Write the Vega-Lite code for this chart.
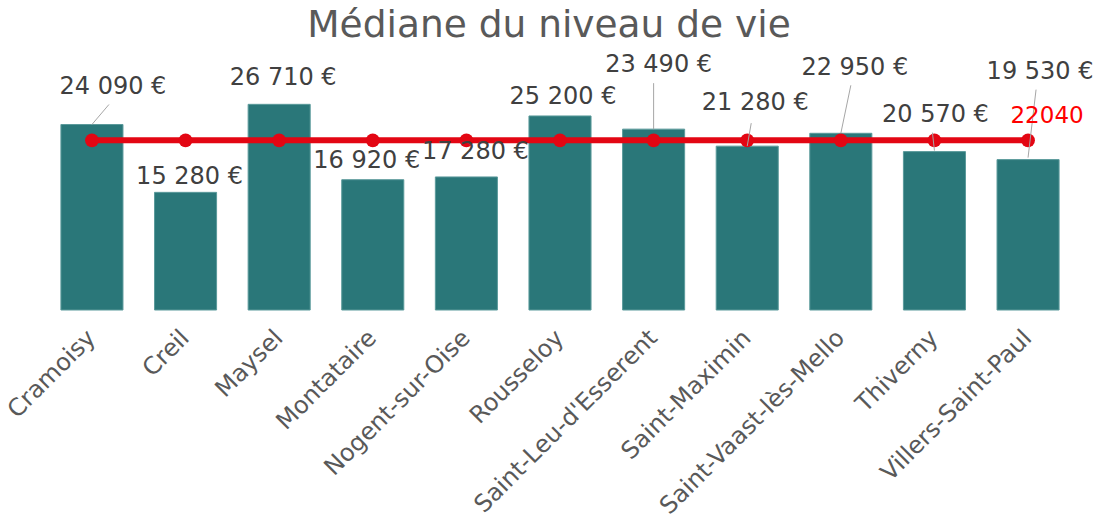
{
  "$schema": "https://vega.github.io/schema/vega-lite/v6.json",
  "width": 1030,
  "height": 231,
  "autosize": {"type": "none"},
  "padding": {"left": 45, "top": 79, "right": 26, "bottom": 214},
  "title": {
    "text": "Médiane du niveau de vie",
    "font": "DejaVu Sans",
    "fontSize": 37.5,
    "fontWeight": "normal",
    "color": "#595959",
    "anchor": "middle",
    "frame": "group",
    "baseline": "alphabetic",
    "offset": 17,
    "dx": -11,
    "dy": 38
  },
  "config": {
    "view": {"stroke": null},
    "font": "DejaVu Sans",
    "locale": {
      "number": {
        "decimal": ",",
        "thousands": "\u00a0",
        "grouping": [3],
        "currency": ["", "\u00a0€"]
      }
    }
  },
  "data": {
    "values": [
      {"commune": "Cramoisy", "valeur": 24090, "moyenne": 22040},
      {"commune": "Creil", "valeur": 15280, "moyenne": 22040},
      {"commune": "Maysel", "valeur": 26710, "moyenne": 22040},
      {"commune": "Montataire", "valeur": 16920, "moyenne": 22040},
      {"commune": "Nogent-sur-Oise", "valeur": 17280, "moyenne": 22040},
      {"commune": "Rousseloy", "valeur": 25200, "moyenne": 22040},
      {"commune": "Saint-Leu-d'Esserent", "valeur": 23490, "moyenne": 22040},
      {"commune": "Saint-Maximin", "valeur": 21280, "moyenne": 22040},
      {"commune": "Saint-Vaast-lès-Mello", "valeur": 22950, "moyenne": 22040},
      {"commune": "Thiverny", "valeur": 20570, "moyenne": 22040},
      {"commune": "Villers-Saint-Paul", "valeur": 19530, "moyenne": 22040}
    ]
  },
  "encoding": {
    "x": {
      "field": "commune",
      "type": "nominal",
      "sort": null,
      "scale": {"paddingInner": 0.337, "paddingOuter": 0.17},
      "axis": {
        "title": null,
        "labelAngle": -45,
        "labelAlign": "right",
        "labelBaseline": "middle",
        "labelPadding": 24,
        "labelFontSize": 24,
        "labelLimit": 400,
        "labelColor": "#595959",
        "labelFont": "DejaVu Sans",
        "ticks": false,
        "domain": false,
        "grid": false
      }
    }
  },
  "layer": [
    {
      "mark": {"type": "bar", "color": "#2A7779", "stroke": "#5b9a9b", "strokeWidth": 1},
      "encoding": {
        "y": {
          "field": "valeur",
          "type": "quantitative",
          "scale": {"domain": [0, 30000], "nice": false},
          "axis": {
            "title": null,
            "values": [0, 5000, 10000, 15000, 20000, 25000, 30000],
            "labels": false,
            "ticks": false,
            "domain": false,
            "grid": true,
            "gridColor": "#d9d9d9",
            "gridWidth": 1.5
          }
        }
      }
    },
    {
      "mark": {"type": "line", "color": "#E30613", "strokeWidth": 6},
      "encoding": {"y": {"field": "moyenne", "type": "quantitative", "axis": null}}
    },
    {
      "mark": {"type": "point", "filled": true, "color": "#E30613", "size": 190, "opacity": 1},
      "encoding": {"y": {"field": "moyenne", "type": "quantitative", "axis": null}}
    },
    {
      "transform": [{"filter": "datum.commune === 'Cramoisy'"}],
      "mark": {"type": "rule", "color": "#a6a6a6", "strokeWidth": 1, "x2Offset": 17, "y2Offset": -20},
      "encoding": {
        "y": {"field": "valeur", "type": "quantitative", "axis": null},
        "y2": {"field": "valeur"},
        "x2": {"field": "commune", "bandPosition": 0.5}
      }
    },
    {
      "transform": [{"filter": "datum.commune === \"Saint-Leu-d'Esserent\""}],
      "mark": {"type": "rule", "color": "#a6a6a6", "strokeWidth": 1, "x2Offset": 0, "y2Offset": -46},
      "encoding": {
        "y": {"field": "valeur", "type": "quantitative", "axis": null},
        "y2": {"field": "valeur"},
        "x2": {"field": "commune", "bandPosition": 0.5}
      }
    },
    {
      "transform": [{"filter": "datum.commune === 'Saint-Maximin'"}],
      "mark": {"type": "rule", "color": "#a6a6a6", "strokeWidth": 1, "x2Offset": 4, "y2Offset": -23},
      "encoding": {
        "y": {"field": "valeur", "type": "quantitative", "axis": null},
        "y2": {"field": "valeur"},
        "x2": {"field": "commune", "bandPosition": 0.5}
      }
    },
    {
      "transform": [{"filter": "datum.commune === 'Saint-Vaast-lès-Mello'"}],
      "mark": {"type": "rule", "color": "#a6a6a6", "strokeWidth": 1, "x2Offset": 10, "y2Offset": -48},
      "encoding": {
        "y": {"field": "valeur", "type": "quantitative", "axis": null},
        "y2": {"field": "valeur"},
        "x2": {"field": "commune", "bandPosition": 0.5}
      }
    },
    {
      "transform": [{"filter": "datum.commune === 'Thiverny'"}],
      "mark": {"type": "rule", "color": "#a6a6a6", "strokeWidth": 1, "yOffset": -1, "x2Offset": -2, "y2Offset": -19},
      "encoding": {
        "y": {"field": "valeur", "type": "quantitative", "axis": null},
        "y2": {"field": "valeur"},
        "x2": {"field": "commune", "bandPosition": 0.5}
      }
    },
    {
      "transform": [{"filter": "datum.commune === 'Villers-Saint-Paul'"}],
      "mark": {"type": "rule", "color": "#a6a6a6", "strokeWidth": 1, "yOffset": -2, "x2Offset": 8, "y2Offset": -70},
      "encoding": {
        "y": {"field": "valeur", "type": "quantitative", "axis": null},
        "y2": {"field": "valeur"},
        "x2": {"field": "commune", "bandPosition": 0.5}
      }
    },
    {
      "transform": [{"filter": "datum.commune === 'Cramoisy'"}],
      "mark": {"type": "text", "fontSize": 24, "color": "#404040", "align": "center", "baseline": "middle", "dx": 21, "dy": -38},
      "encoding": {
        "y": {"field": "valeur", "type": "quantitative", "axis": null},
        "text": {"field": "valeur", "type": "quantitative", "format": "$,.0f"}
      }
    },
    {
      "transform": [{"filter": "datum.commune === 'Creil'"}],
      "mark": {"type": "text", "fontSize": 24, "color": "#404040", "align": "center", "baseline": "middle", "dx": 4, "dy": -15},
      "encoding": {
        "y": {"field": "valeur", "type": "quantitative", "axis": null},
        "text": {"field": "valeur", "type": "quantitative", "format": "$,.0f"}
      }
    },
    {
      "transform": [{"filter": "datum.commune === 'Maysel'"}],
      "mark": {"type": "text", "fontSize": 24, "color": "#404040", "align": "center", "baseline": "middle", "dx": 4, "dy": -26},
      "encoding": {
        "y": {"field": "valeur", "type": "quantitative", "axis": null},
        "text": {"field": "valeur", "type": "quantitative", "format": "$,.0f"}
      }
    },
    {
      "transform": [{"filter": "datum.commune === 'Montataire'"}],
      "mark": {"type": "text", "fontSize": 24, "color": "#404040", "align": "center", "baseline": "middle", "dx": -6, "dy": -19},
      "encoding": {
        "y": {"field": "valeur", "type": "quantitative", "axis": null},
        "text": {"field": "valeur", "type": "quantitative", "format": "$,.0f"}
      }
    },
    {
      "transform": [{"filter": "datum.commune === 'Nogent-sur-Oise'"}],
      "mark": {"type": "text", "fontSize": 24, "color": "#404040", "align": "center", "baseline": "middle", "dx": 9, "dy": -25},
      "encoding": {
        "y": {"field": "valeur", "type": "quantitative", "axis": null},
        "text": {"field": "valeur", "type": "quantitative", "format": "$,.0f"}
      }
    },
    {
      "transform": [{"filter": "datum.commune === 'Rousseloy'"}],
      "mark": {"type": "text", "fontSize": 24, "color": "#404040", "align": "center", "baseline": "middle", "dx": 3, "dy": -19},
      "encoding": {
        "y": {"field": "valeur", "type": "quantitative", "axis": null},
        "text": {"field": "valeur", "type": "quantitative", "format": "$,.0f"}
      }
    },
    {
      "transform": [{"filter": "datum.commune === \"Saint-Leu-d'Esserent\""}],
      "mark": {"type": "text", "fontSize": 24, "color": "#404040", "align": "center", "baseline": "middle", "dx": 5, "dy": -64},
      "encoding": {
        "y": {"field": "valeur", "type": "quantitative", "axis": null},
        "text": {"field": "valeur", "type": "quantitative", "format": "$,.0f"}
      }
    },
    {
      "transform": [{"filter": "datum.commune === 'Saint-Maximin'"}],
      "mark": {"type": "text", "fontSize": 24, "color": "#404040", "align": "center", "baseline": "middle", "dx": 8, "dy": -43},
      "encoding": {
        "y": {"field": "valeur", "type": "quantitative", "axis": null},
        "text": {"field": "valeur", "type": "quantitative", "format": "$,.0f"}
      }
    },
    {
      "transform": [{"filter": "datum.commune === 'Saint-Vaast-lès-Mello'"}],
      "mark": {"type": "text", "fontSize": 24, "color": "#404040", "align": "center", "baseline": "middle", "dx": 14, "dy": -65},
      "encoding": {
        "y": {"field": "valeur", "type": "quantitative", "axis": null},
        "text": {"field": "valeur", "type": "quantitative", "format": "$,.0f"}
      }
    },
    {
      "transform": [{"filter": "datum.commune === 'Thiverny'"}],
      "mark": {"type": "text", "fontSize": 24, "color": "#404040", "align": "center", "baseline": "middle", "dx": 1, "dy": -37},
      "encoding": {
        "y": {"field": "valeur", "type": "quantitative", "axis": null},
        "text": {"field": "valeur", "type": "quantitative", "format": "$,.0f"}
      }
    },
    {
      "transform": [{"filter": "datum.commune === 'Villers-Saint-Paul'"}],
      "mark": {"type": "text", "fontSize": 24, "color": "#404040", "align": "center", "baseline": "middle", "dx": 12, "dy": -88},
      "encoding": {
        "y": {"field": "valeur", "type": "quantitative", "axis": null},
        "text": {"field": "valeur", "type": "quantitative", "format": "$,.0f"}
      }
    },
    {
      "transform": [{"filter": "datum.commune === 'Villers-Saint-Paul'"}],
      "mark": {"type": "text", "fontSize": 23, "color": "#FF0000", "align": "center", "baseline": "middle", "dx": 19, "dy": -24},
      "encoding": {
        "y": {"field": "moyenne", "type": "quantitative", "axis": null},
        "text": {"field": "moyenne", "type": "quantitative", "format": "d"}
      }
    }
  ]
}
